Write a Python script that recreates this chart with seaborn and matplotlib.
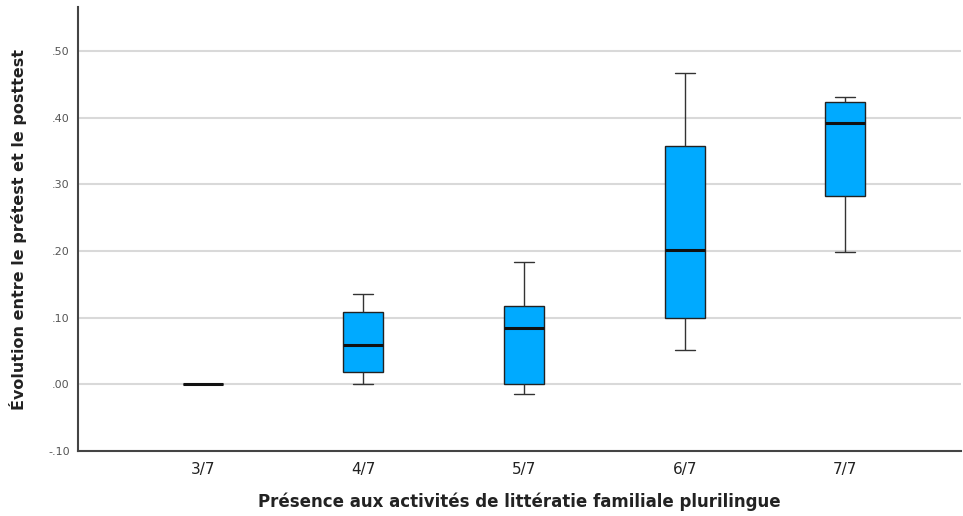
import numpy as np
import pandas as pd
import matplotlib
matplotlib.use("Agg")
import matplotlib.pyplot as plt
import seaborn as sns

# Five-number summaries (min, Q1, median, Q3, max)
categories = ["3/7", "4/7", "5/7", "6/7", "7/7"]
g37 = [0.0, 0.0, 0.0, 0.0, 0.0]
g47 = [0.0, 0.018, 0.059, 0.108, 0.135]
g57 = [-0.015, 0.0, 0.084, 0.117, 0.184]
g67 = [0.051, 0.100, 0.201, 0.358, 0.468]
g77 = [0.199, 0.283, 0.392, 0.424, 0.432]
yticks = [-0.10, 0.0, 0.10, 0.20, 0.30, 0.40, 0.50]
ytick_labels = ["-.10", ".00", ".10", ".20", ".30", ".40", ".50"]

groups = [g37, g47, g57, g67, g77]
df = pd.DataFrame({
    "cat": np.repeat(categories, [len(g) for g in groups]),
    "val": np.concatenate(groups),
})

sns.set_theme(style="white")
plt.rcParams["font.family"] = ["DejaVu Sans"]

fig = plt.figure(figsize=(9.63, 5.16), dpi=100)
ax = fig.add_axes([0.081, 0.126, 0.917, 0.86])

ax.set_axisbelow(True)
for t in yticks:
    ax.axhline(t, color="#d9d9d9", lw=1.5, zorder=0)

sns.boxplot(data=df, x="cat", y="val", order=categories, ax=ax,
            color="#00AAFF", saturation=1, width=0.25, whis=np.inf,
            linecolor="#222222", linewidth=1.0,
            medianprops=dict(color="#111111", linewidth=2.2),
            whiskerprops=dict(color="#333333", linewidth=1.0),
            capprops=dict(color="#333333", linewidth=1.0),
            boxprops=dict(edgecolor="#222222", linewidth=1.0))

ax.set_xlim(-0.776, 4.72)
ax.set_ylim(-0.1, 0.566)
ax.set_yticks(yticks)
ax.set_yticklabels(ytick_labels, fontsize=8, color="#555555")
ax.tick_params(axis="x", labelsize=11, colors="#222222", length=0, pad=8)
ax.tick_params(axis="y", length=0, pad=6)

for s in ["top", "right"]:
    ax.spines[s].set_visible(False)
for s in ["left", "bottom"]:
    ax.spines[s].set_color("#444444")
    ax.spines[s].set_linewidth(1.5)

ax.set_xlabel("Présence aux activités de littératie familiale plurilingue",
              fontsize=12, fontweight="bold", color="#222222", labelpad=11)
ax.set_ylabel("Évolution entre le prétest et le posttest",
              fontsize=11.5, fontweight="bold", color="#222222", labelpad=15.5)

fig.savefig("out.png", dpi=100)
